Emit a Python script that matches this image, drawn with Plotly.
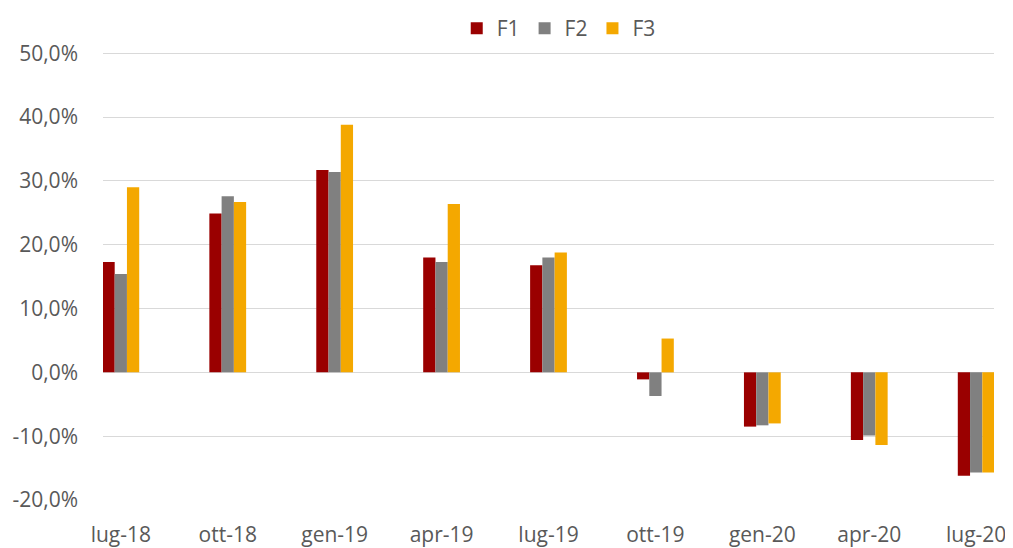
import plotly.graph_objects as go

categories = ["lug-18", "ott-18", "gen-19", "apr-19", "lug-19", "ott-19", "gen-20", "apr-20", "lug-20"]
f1 = [0.173, 0.249, 0.317, 0.180, 0.168, -0.011, -0.085, -0.106, -0.162]
f2 = [0.154, 0.276, 0.314, 0.173, 0.180, -0.037, -0.083, -0.099, -0.157]
f3 = [0.290, 0.267, 0.388, 0.264, 0.188, 0.053, -0.080, -0.114, -0.157]
series_names = ["F1", "F2", "F3"]
colors = ["#9A0000", "#808080", "#F4A800"]
y_tickvals = [-0.2, -0.1, 0.0, 0.1, 0.2, 0.3, 0.4, 0.5]
y_ticktext = ["-20,0%", "-10,0%", "0,0%", "10,0%", "20,0%", "30,0%", "40,0%", "50,0%"]

fig = go.Figure()
for name, vals, col in zip(series_names, [f1, f2, f3], colors):
    fig.add_trace(go.Bar(x=categories, y=vals, name=name, marker_color=col,
                         marker_line_width=0))

font_fam = "Open Sans, Noto Sans, sans-serif"
fig.update_layout(
    width=1005, height=540,
    margin=dict(l=95, r=19, t=44, b=48),
    paper_bgcolor="white", plot_bgcolor="white",
    barmode="group", bargap=0.656, bargroupgap=0,
    font=dict(family=font_fam, size=21, color="#595959"),
    legend=dict(orientation="h", x=0.548, xref="container", xanchor="center",
                y=1.0, yref="container", yanchor="top",
                font=dict(size=21, color="#595959"), itemwidth=30, traceorder="normal"),
    xaxis=dict(type="category", range=[-1/6, 8 + 1/6], showgrid=False, showline=False,
               zeroline=False, ticks="", ticklabelstandoff=20, tickfont=dict(size=21),
               automargin=False),
    yaxis=dict(range=[-0.2, 0.502], tickvals=y_tickvals, ticktext=y_ticktext,
               showgrid=True, gridcolor="#D9D9D9", gridwidth=1, zeroline=True,
               zerolinecolor="#D9D9D9", zerolinewidth=1, showline=False, ticks="",
               ticklabelstandoff=24, tickfont=dict(size=21), automargin=False),
)
fig.write_html("out.html")
